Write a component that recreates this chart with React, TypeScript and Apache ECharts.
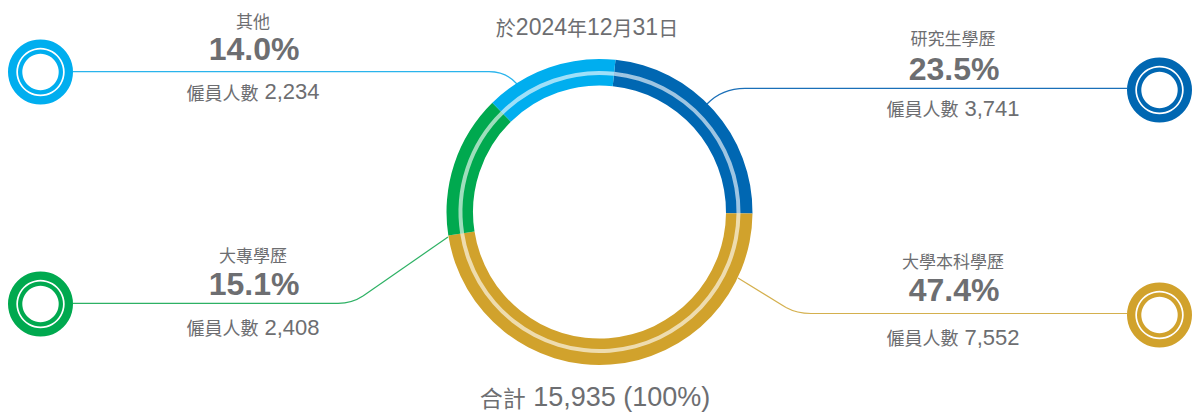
import React, { useEffect, useRef } from 'react';
import * as echarts from 'echarts';

// ---- data ----
const categories = ['研究生學歷', '大學本科學歷', '大專學歷', '其他'];
const employees = [3741, 7552, 2408, 2234];
const titleParts = ['於', '2024', '年', '12', '月', '31', '日'];
const totalWord = '合計';
const countWord = '僱員人數';

// ---- styles / layout ----
const colors = ['#0067B2', '#D1A22C', '#00A94F', '#00AEEF'];
const lineColors = ['#1A6FB8', '#D4B04E', '#2DB164', '#2AB4EC'];
const textColor = '#6D6E71';
const latin = '"Liberation Sans", Arial, "Noto Sans CJK TC", sans-serif';
const cjk = '"Noto Sans CJK TC", "Liberation Sans", sans-serif';

const layout = [
  { x: 953, nameY: 37, pctY: 69, countY: 108, cx: 1159.5, cy: 90 },
  { x: 953, nameY: 260.5, pctY: 290, countY: 337, cx: 1159.5, cy: 315 },
  { x: 253, nameY: 254, pctY: 284, countY: 327, cx: 40.5, cy: 304 },
  { x: 253, nameY: 20, pctY: 49, countY: 91.5, cx: 40.5, cy: 72 },
];

// leader line segments
const leaders: any[][] = [
  [
    { b: [707, 104, 722, 88.3, 745, 88.3] },
    { l: [745, 88.3, 1127, 88.3] },
  ],
  [
    { l: [738, 278, 786, 307.5] },
    { b: [786, 307.5, 797, 313.5, 811, 313.5] },
    { l: [811, 313.5, 1127, 313.5] },
  ],
  [
    { l: [448, 237, 363, 296] },
    { b: [363, 296, 352, 303.3, 338, 303.3] },
    { l: [338, 303.3, 73, 303.3] },
  ],
  [
    { l: [73, 71.7, 489, 71.7] },
    { b: [489, 71.7, 506, 71.7, 517, 84] },
  ],
];

export default function App() {
  const ref = useRef<HTMLDivElement>(null);

  useEffect(() => {
    document.body.style.margin = '0';
    if (!ref.current) return;
    const chart = echarts.init(ref.current, undefined, { renderer: 'svg' });
    const total = employees.reduce((a, b) => a + b, 0);

    const pieData = categories.map((name, i) => ({
      name,
      value: employees[i],
      itemStyle: { color: colors[i] },
    }));
    const stripeData = categories.map((name, i) => ({
      name,
      value: employees[i],
      itemStyle: { color: 'rgba(255,255,255,0.62)' },
    }));

    const graphics: any[] = [];

    leaders.forEach((segs, i) => {
      segs.forEach((s: any) => {
        if (s.l) {
          graphics.push({
            type: 'line',
            shape: { x1: s.l[0], y1: s.l[1], x2: s.l[2], y2: s.l[3] },
            style: { stroke: lineColors[i], lineWidth: 1.2 },
            silent: true,
          });
        } else {
          graphics.push({
            type: 'bezierCurve',
            shape: {
              x1: s.b[0], y1: s.b[1], cpx1: s.b[2], cpy1: s.b[3], x2: s.b[4], y2: s.b[5],
            },
            style: { stroke: lineColors[i], lineWidth: 1.2, fill: 'none' },
            silent: true,
          });
        }
      });
    });

    layout.forEach((p, i) => {
      graphics.push({
        type: 'ring',
        shape: { cx: p.cx, cy: p.cy, r: 32.5, r0: 24.2 },
        style: { fill: colors[i] },
        silent: true,
      });
      graphics.push({
        type: 'ring',
        shape: { cx: p.cx, cy: p.cy, r: 22.5, r0: 18.2 },
        style: { fill: colors[i] },
        silent: true,
      });
    });

    categories.forEach((name, i) => {
      const p = layout[i];
      const pct = ((employees[i] / total) * 100).toFixed(1) + '%';
      graphics.push({
        type: 'text',
        x: p.x,
        y: p.nameY,
        style: {
          text: name,
          fill: textColor,
          fontSize: 17,
          lineHeight: 18,
          fontFamily: cjk,
          align: 'center',
          verticalAlign: 'middle',
        },
        silent: true,
      });
      graphics.push({
        type: 'text',
        x: p.x + 1,
        y: p.pctY,
        style: {
          text: pct,
          fill: textColor,
          fontSize: 32,
          lineHeight: 28,
          fontWeight: 'bold',
          fontFamily: latin,
          align: 'center',
          verticalAlign: 'middle',
        },
        silent: true,
      });
      graphics.push({
        type: 'text',
        x: p.x,
        y: p.countY,
        style: {
          text: `{a|${countWord}}{s| }{b|${employees[i].toLocaleString('en-US')}}`,
          fill: textColor,
          align: 'center',
          verticalAlign: 'middle',
          rich: {
            a: { fontSize: 18, fontFamily: cjk, fill: textColor },
            s: { fontSize: 22, fontFamily: latin, fill: textColor },
            b: { fontSize: 22, fontFamily: latin, fill: textColor },
          },
        },
        silent: true,
      });
    });

    graphics.push({
      type: 'text',
      x: 587,
      y: 27,
      style: {
        text: titleParts
          .map((t) => (/^\d+$/.test(t) ? `{b|${t}}` : `{a|${t}}`))
          .join(''),
        fill: textColor,
        align: 'center',
        verticalAlign: 'middle',
        rich: {
          a: { fontSize: 20, fontFamily: cjk, fill: textColor },
          b: { fontSize: 23, fontFamily: latin, fill: textColor },
        },
      },
      silent: true,
    });

    graphics.push({
      type: 'text',
      x: 595,
      y: 397,
      style: {
        text: `{a|${totalWord}}{s| }{b|${total.toLocaleString('en-US')} (100%)}`,
        fill: textColor,
        align: 'center',
        verticalAlign: 'middle',
        rich: {
          a: { fontSize: 23, fontFamily: cjk, fill: textColor },
          s: { fontSize: 27, fontFamily: latin, fill: textColor },
          b: { fontSize: 27, fontFamily: latin, fill: textColor },
        },
      },
      silent: true,
    });

    chart.setOption({
      animation: false,
      series: [
        {
          type: 'pie',
          center: [599.5, 212],
          radius: [126.5, 153],
          startAngle: 84,
          clockwise: true,
          silent: true,
          label: { show: false },
          labelLine: { show: false },
          itemStyle: { borderWidth: 0 },
          emphasis: { disabled: true },
          data: pieData,
        },
        {
          type: 'pie',
          center: [599.5, 212],
          radius: [137, 141],
          startAngle: 84,
          clockwise: true,
          silent: true,
          label: { show: false },
          labelLine: { show: false },
          itemStyle: { borderWidth: 0 },
          emphasis: { disabled: true },
          data: stripeData,
        },
      ],
      graphic: graphics,
    });

    return () => chart.dispose();
  }, []);

  return <div ref={ref} style={{ width: 1197, height: 416 }} />;
}
